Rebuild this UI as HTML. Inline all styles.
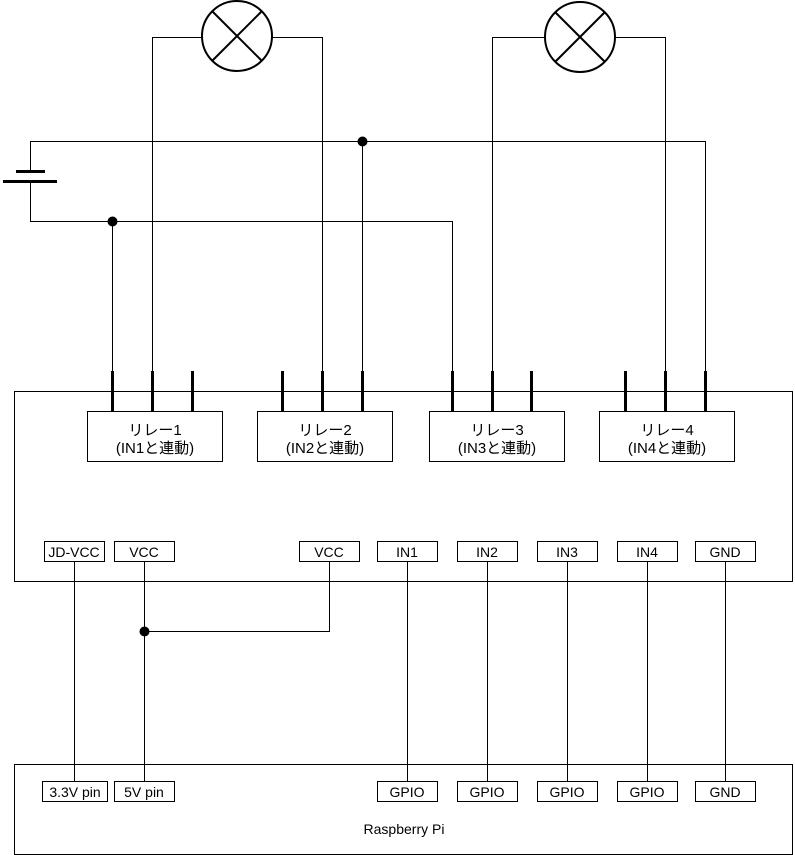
<!DOCTYPE html>
<html><head><meta charset="utf-8"><style>
html,body{margin:0;padding:0;background:#fff;}
svg{display:block;}
text{font-family:"Liberation Sans","Noto Sans CJK JP",sans-serif;font-size:14px;fill:#000;}
text.r{font-size:15px;}
</style></head><body>
<svg width="795" height="855" viewBox="0 0 795 855" xmlns="http://www.w3.org/2000/svg">
<g fill="none" stroke="#000" stroke-width="1">
<rect x="14.5" y="391.5" width="778" height="190"/>
<rect x="14.5" y="764.5" width="778" height="90"/>
<rect x="87.5" y="411.5" width="135" height="50"/>
<rect x="257.5" y="411.5" width="135" height="50"/>
<rect x="429.5" y="411.5" width="135" height="50"/>
<rect x="599.5" y="411.5" width="135" height="50"/>
<rect x="44.5" y="541.5" width="60" height="20"/>
<rect x="114.5" y="541.5" width="60" height="20"/>
<rect x="299.5" y="541.5" width="60" height="20"/>
<rect x="377.5" y="541.5" width="60" height="20"/>
<rect x="457.5" y="541.5" width="60" height="20"/>
<rect x="537.5" y="541.5" width="60" height="20"/>
<rect x="617.5" y="541.5" width="60" height="20"/>
<rect x="695.5" y="541.5" width="60" height="20"/>
<rect x="42.5" y="781.5" width="65" height="20"/>
<rect x="114.5" y="781.5" width="60" height="20"/>
<rect x="377.5" y="781.5" width="60" height="20"/>
<rect x="457.5" y="781.5" width="60" height="20"/>
<rect x="537.5" y="781.5" width="60" height="20"/>
<rect x="617.5" y="781.5" width="60" height="20"/>
<rect x="695.5" y="781.5" width="60" height="20"/>
<path d="M74.5 561.5V781.5 M144.5 561.5V781.5 M144.5 631.5H329.5V561.5 M407.5 561.5V781.5 M487.5 561.5V781.5 M567.5 561.5V781.5 M647.5 561.5V781.5 M725.5 561.5V781.5"/>
<path d="M152.5 371V37.5H202 M272 37.5H322.5V371"/>
<path d="M492.5 371V37.5H545 M615 37.5H665.5V371"/>
<path d="M30.5 171V141.5H705.5V371 M362.5 141.5V371"/>
<path d="M30.5 181V221.5H452.5V371 M112.5 221.5V371"/>
</g>
<g fill="#fff" stroke="#000" stroke-width="2">
<circle cx="237" cy="36" r="35"/>
<path d="M212 11L262 61M262 11L212 61" fill="none"/>
<circle cx="580" cy="37" r="35"/>
<path d="M555 12L605 62M605 12L555 62" fill="none"/>
</g>
<path d="M16 171.5H45 M3 181.5H57" stroke="#000" stroke-width="3"/>
<g stroke="#000" stroke-width="3">
<path d="M112.5 371V411M152.5 371V411M192.5 371V411"/>
<path d="M282.5 371V411M322.5 371V411M362.5 371V411"/>
<path d="M452.5 371V411M492.5 371V411M531.5 371V411"/>
<path d="M625.5 371V411M665.5 371V411M705.5 371V411"/>
</g>
<circle cx="362.5" cy="141.5" r="5"/>
<circle cx="112.5" cy="221.5" r="5"/>
<circle cx="144.5" cy="631.5" r="5"/>
<g text-anchor="middle">
<text class="r" x="155" y="435">リレー1</text><text class="r" x="155" y="453">(IN1と連動)</text>
<text class="r" x="325" y="435">リレー2</text><text class="r" x="325" y="453">(IN2と連動)</text>
<text class="r" x="497" y="435">リレー3</text><text class="r" x="497" y="453">(IN3と連動)</text>
<text class="r" x="667" y="435">リレー4</text><text class="r" x="667" y="453">(IN4と連動)</text>
<text x="74" y="557">JD-VCC</text>
<text x="144" y="557">VCC</text>
<text x="329" y="557">VCC</text>
<text x="407" y="557">IN1</text>
<text x="487" y="557">IN2</text>
<text x="567" y="557">IN3</text>
<text x="647" y="557">IN4</text>
<text x="725" y="557">GND</text>
<text x="75" y="797">3.3V pin</text>
<text x="144" y="797">5V pin</text>
<text x="407" y="797">GPIO</text>
<text x="487" y="797">GPIO</text>
<text x="567" y="797">GPIO</text>
<text x="647" y="797">GPIO</text>
<text x="725" y="797">GND</text>
<text x="404" y="834">Raspberry Pi</text>
</g>
</svg>
</body></html>
